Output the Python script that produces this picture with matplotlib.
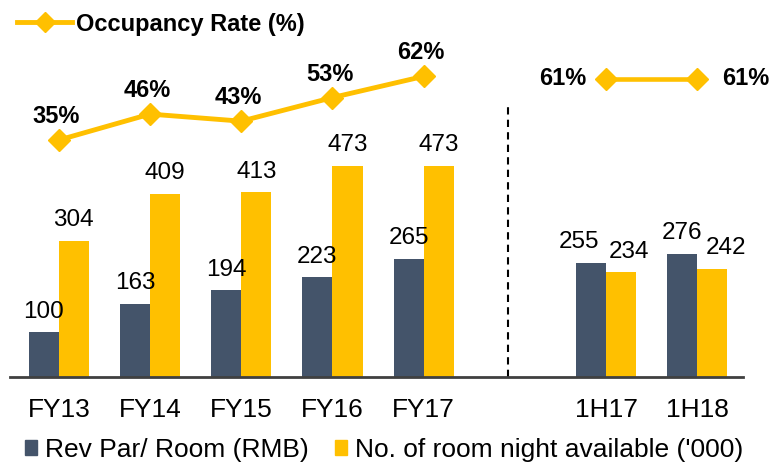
import numpy as np
import matplotlib.pyplot as plt
from matplotlib.lines import Line2D
from matplotlib.patches import Patch

plt.rcParams['font.family'] = ['Liberation Sans', 'DejaVu Sans']

categories = ['FY13', 'FY14', 'FY15', 'FY16', 'FY17', '1H17', '1H18']
positions = [0, 1, 2, 3, 4, 6, 7]
revpar = [100, 163, 194, 223, 265, 255, 276]
room_nights = [304, 409, 413, 473, 473, 234, 242]
occupancy_fy = [35, 46, 43, 53, 62]
occupancy_1h = [61, 61]

# small horizontal nudges so the half-year labels do not collide
revpar_nudge = [0, 0, 0, 0, 0, -0.13, 0]
rooms_nudge = [0, 0, 0, 0, 0, 0.08, 0.15]

dark = '#44546A'
gold = '#FFC000'

fig = plt.figure(figsize=(7.73, 4.63), dpi=100)
ax = fig.add_axes([10 / 773, 86 / 463, 733 / 773, 367 / 463])
w = 0.33
x = np.array(positions, dtype=float)
ax.bar(x - w / 2, revpar, w, color=dark)
ax.bar(x + w / 2, room_nights, w, color=gold)
for xi, v, dx in zip(x, revpar, revpar_nudge):
    ax.text(xi - w / 2 + dx, v + 33, str(v), ha='center', va='baseline', fontsize=17.5)
for xi, v, dx in zip(x, room_nights, rooms_nudge):
    ax.text(xi + w / 2 + dx, v + 33, str(v), ha='center', va='baseline', fontsize=17.5)

ax.set_xlim(-0.535, 7.5)
ax.set_ylim(0, 821)
ax.set_xticks(x)
ax.set_xticklabels(categories, fontsize=19)
ax.tick_params(axis='x', length=0, pad=15)
ax.set_yticks([])
for s in ['top', 'left', 'right']:
    ax.spines[s].set_visible(False)
ax.spines['bottom'].set_color('#404040')
ax.spines['bottom'].set_linewidth(2)

# separator between full years and half years
sep_x = 4.92
ax.plot([sep_x, sep_x], [0, 607], ls=(0, (3.5, 2.5)), color='black', lw=1.5)

ax2 = ax.twinx()
ax2.set_ylim(-65.4, 90.1)
ax2.axis('off')
ax2.plot(x[:5], occupancy_fy, color=gold, lw=3.5, marker='D', ms=11, zorder=3)
ax2.plot(x[5:], occupancy_1h, color=gold, lw=3.3, marker='D', ms=11, zorder=3)
for xi, v in zip(x[:5], occupancy_fy):
    ax2.text(xi - 0.03, v + 7.2, f'{v}%', ha='center', va='baseline', fontsize=17, fontweight='bold')
ax2.text(x[5] - 0.48, occupancy_1h[0], f'{occupancy_1h[0]}%', ha='center', va='center', fontsize=17, fontweight='bold')
ax2.text(x[6] + 0.53, occupancy_1h[1], f'{occupancy_1h[1]}%', ha='center', va='center', fontsize=17, fontweight='bold')

fig.legend(handles=[Line2D([], [], color=gold, lw=3.5, marker='D', ms=10)],
           labels=['Occupancy Rate (%)'], loc='center left', bbox_to_anchor=(17 / 773, 1 - 24 / 463),
           frameon=False, borderpad=0, borderaxespad=0, handlelength=2.33, handletextpad=0.17,
           prop={'weight': 'bold', 'size': 17})
fig.legend(handles=[Patch(color=dark), Patch(color=gold)],
           labels=['Rev Par/ Room (RMB)', "No. of room night available ('000)"],
           loc='center left', bbox_to_anchor=(25 / 773, 1 - 450 / 463), ncol=2, frameon=False,
           borderpad=0, borderaxespad=0, handlelength=0.45, handleheight=0.5, handletextpad=0.3,
           columnspacing=1.0, fontsize=19)

fig.savefig('out.png', dpi=100)
